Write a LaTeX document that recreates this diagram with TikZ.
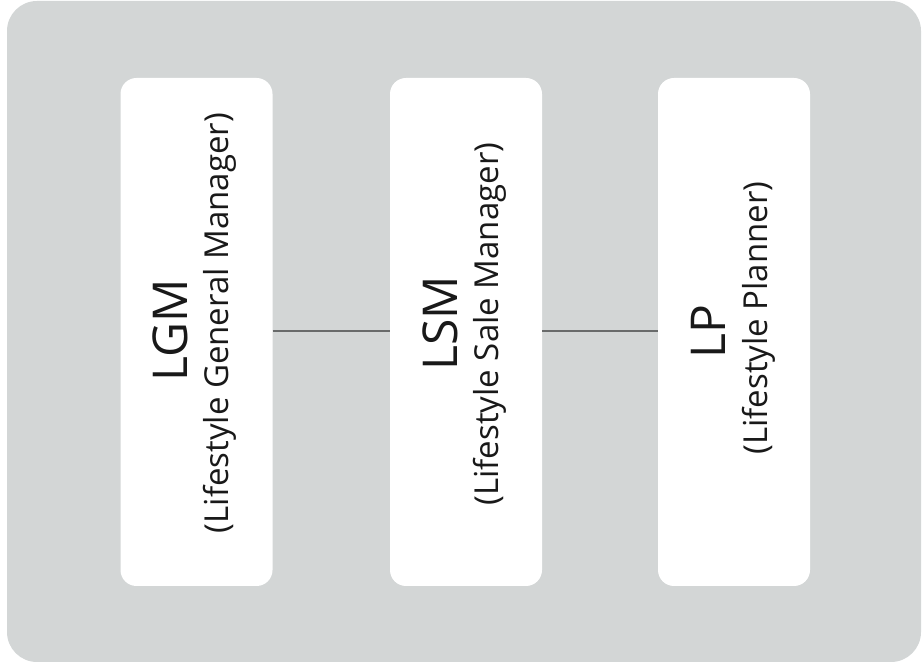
\documentclass[tikz,border=0pt]{standalone}
\usepackage{fontspec}
\setmainfont{Open Sans}
\definecolor{bggray}{RGB}{211,214,214}
\definecolor{linegray}{RGB}{105,107,107}
\definecolor{txt}{RGB}{25,25,25}
\begin{document}
\begin{tikzpicture}[x=1pt,y=1pt,
  rolebox/.style={fill=white, draw=none, rounded corners=16pt, minimum width=152pt, minimum height=508pt, inner sep=0pt},
  bigtext/.style={rotate=90, anchor=base, text=txt, inner sep=0pt, font=\fontsize{48}{52}\selectfont},
  smalltext/.style={rotate=90, anchor=base, text=txt, inner sep=0pt, font=\fontsize{33}{36}\selectfont},
  link/.style={draw=linegray, line width=2pt}]
\useasboundingbox (0,0) rectangle (923,666);
\fill[bggray, rounded corners=30pt] (7,4) rectangle (921,665);
\node[rolebox] (b1) at (196.5,334) {};
\node[rolebox] (b2) at (466,334) {};
\node[rolebox] (b3) at (734,334) {};
\draw[link] (b1.east |- 0,335) coordinate (l1a) -- (b2.west |- 0,335) coordinate (l1b);
\draw[link] (b2.east |- 0,335) coordinate (l2a) -- (b3.west |- 0,335) coordinate (l2b);
\node[bigtext] (t1a) at (187,336) {LGM};
\node[smalltext] (t1b) at (228,343) {(Lifestyle General Manager)};
\node[bigtext] (t2a) at (457,343) {LSM};
\node[smalltext] (t2b) at (498,342) {(Lifestyle Sale Manager)};
\node[bigtext] (t3a) at (725,334) {LP};
\node[smalltext] (t3b) at (767,348) {(Lifestyle Planner)};
\end{tikzpicture}
\end{document}
